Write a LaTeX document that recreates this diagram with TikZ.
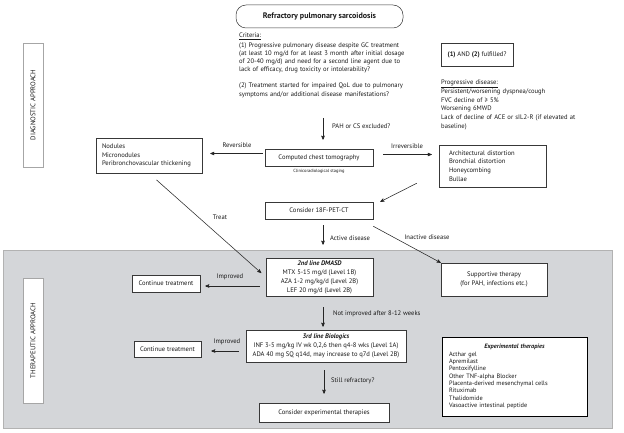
\documentclass[tikz,border=0pt]{standalone}
\usepackage{fontspec}
\setmainfont{PT Sans}
\usepackage{tikz}
\usetikzlibrary{arrows, calc}
\definecolor{PANELgray}{rgb}{0.83,0.84,0.85}
\definecolor{LINEgray}{rgb}{0.22,0.22,0.22}

\begin{document}
\begin{tikzpicture}[x=1pt, y=-1pt, text=black!90,
	box/.style={draw=LINEgray, line width=0.5pt, fill=white, inner sep=0pt, align=center, font=\fontsize{6.6}{9}\selectfont},
	lbl/.style={inner sep=0pt, font=\fontsize{6.6}{8}\selectfont},
	side/.style={draw=black!35, fill=white, rotate=90, minimum height=20pt, inner sep=0pt, font=\fontsize{6.8}{8}\selectfont},
	arr/.style={->, >=stealth', draw=black!85, line width=0.55pt}]
	\useasboundingbox (0,0) rectangle (624,433);
	\draw[fill=PANELgray, draw=black!30] (3,250) rectangle (612,428);

	\node[side, minimum width=124pt] (diag) at (33,105) {DIAGNOSTIC APPROACH};
	\node[side, minimum width=125pt] (ther) at (33,340.5) {THERAPEUTIC APPROACH};

	\node[box, rounded corners=10pt, minimum width=167pt, minimum height=23pt, font=\bfseries\fontsize{8}{9}\selectfont] (title) at (319.5,16.5) {Refractory pulmonary sarcoidosis};

	\node[lbl, anchor=north west, text width=185pt, align=left, font=\fontsize{6.6}{8.2}\selectfont] (crit) at (239,33) {\underline{Criteria:}\\[1pt]
		(1) Progressive pulmonary disease despite GC treatment\\
		(at least 10 mg/d for at least 3 month after initial dosage\\
		of 20-40 mg/d) and need for a second line agent due to\\
		lack of efficacy, drug toxicity or intolerability?\\[8pt]
		(2) Treatment started for impaired QoL due to pulmonary\\
		symptoms and/or additional disease manifestations?};
	\node[box, minimum width=72pt, minimum height=23pt] (ful) at (477,54.5) {\textbf{(1)} AND \textbf{(2)} fulfilled?};
	\node[lbl, anchor=north west, text width=180pt, align=left, font=\fontsize{6.6}{8.7}\selectfont] (prog) at (441,80) {\underline{Progressive disease:}\\
		Persistent/worsening dyspnea/cough\\
		FVC decline of ≥ 5\%\\
		Worsening 6MWD\\
		Lack of decline of ACE or sIL2-R (if elevated at\\
		baseline)};

	\coordinate (pah) at (323,118);
	\node[lbl, anchor=west] (pahlbl) at (332,126) {PAH or CS excluded?};

	\node[box, minimum width=108pt, minimum height=17pt] (ct) at (319,157.5) {Computed chest tomography};
	\node[lbl, font=\fontsize{4.5}{5}\selectfont] (stage) at (319,171.5) {Clinicoradiological staging};
	\node[box, minimum width=106pt, minimum height=35pt, text width=94pt, align=left, font=\fontsize{6.6}{8.5}\selectfont] (nod) at (149,155.5) {Nodules\\ Micronodules\\ Peribronchovascular thickening};
	\node[box, minimum width=107pt, minimum height=42pt, text width=87pt, align=left, font=\fontsize{6.6}{8.7}\selectfont] (arch) at (492.5,166) {Architectural distortion\\ Bronchial distortion\\ Honeycombing\\ Bullae};
	\node[lbl] (revlbl) at (237,145) {Reversible};
	\node[lbl] (irrlbl) at (407,146) {Irreversible};

	\node[box, minimum width=108pt, minimum height=17pt] (pet) at (319,210.5) {Consider 18F-PET-CT};
	\node[lbl] (treatlbl) at (220,217) {Treat};
	\node[lbl, anchor=west] (actlbl) at (330,238) {Active disease};
	\node[lbl] (inactlbl) at (427,237) {Inactive disease};

	\node[box, minimum width=107pt, minimum height=38pt] (dmasd) at (319.5,277) {\textbf{\textit{2nd line DMASD}}\\ MTX 5-15 mg/d (Level 1B)\\ AZA 1-2 mg/kg/d (Level 2B)\\ LEF 20 mg/d (Level 2B)};
	\node[box, minimum width=68pt, minimum height=17pt] (cont1) at (166,283.5) {Continue treatment};
	\node[lbl] (imp1lbl) at (230,277) {Improved};
	\node[box, minimum width=106pt, minimum height=33pt] (supp) at (494,279.5) {Supportive therapy\\ (for PAH, infections etc.)};
	\node[lbl, anchor=west] (notlbl) at (333,314) {Not improved after 8-12 weeks};

	\node[box, minimum width=160pt, minimum height=32pt] (bio) at (326,346) {\textbf{\textit{3rd line Biologics}}\\ INF 3-5 mg/kg IV wk 0,2,6 then q4-8 wks (Level 1A)\\ ADA 40 mg SQ q14d, may increase to q7d (Level 2B)};
	\node[box, minimum width=67pt, minimum height=16pt] (cont2) at (167.5,349.5) {Continue treatment};
	\node[lbl] (imp2lbl) at (227,342) {Improved};
	\node[lbl, anchor=west] (stilllbl) at (331,381) {Still refractory?};
	\node[box, minimum width=130pt, minimum height=19pt] (expc) at (324,412.5) {Consider experimental therapies};
	\node[box, draw=black, line width=0.8pt, minimum width=145pt, minimum height=79pt, text width=131pt, align=left, font=\fontsize{6.3}{7.3}\selectfont] (expt) at (514.5,376.5) {\makebox[131pt]{\textbf{\textit{Experimental therapies}}}\\
		Acthar gel\\ Apremilast\\ Pentoxifylline\\ Other TNF-alpha Blocker\\ Placenta-derived mesenchymal cells\\ Rituximab\\ Thalidomide\\ Vasoactive intestinal peptide};

	\draw[arr, shorten >=9pt] (pah) -- (ct.north -| pah);
	\draw[arr, shorten <=2pt, shorten >=8pt] ([yshift=4pt]ct.west) -- ([yshift=4pt]ct.west -| nod.east);
	\draw[arr, shorten <=10pt, shorten >=7pt] ([yshift=3pt]ct.east) -- ([yshift=3pt]ct.east -| arch.west);
	\draw[arr] ($(arch.south west)+(-22,-4)$) -- ($(pet.north east)+(7,0)$);
	\draw[arr, shorten <=10pt, shorten >=6pt] (nod.south) -- (dmasd.west);
	\draw[arr, shorten <=6pt, shorten >=13pt] ([xshift=4pt]pet.south) -- ([xshift=4pt]pet.south |- dmasd.north);
	\draw[arr] ($(pet.south east)+(0,7)$) -- (supp.north west);
	\draw[arr, shorten <=6pt, shorten >=5pt] ([yshift=-9pt]dmasd.west) -- ([yshift=-9pt]dmasd.west -| cont1.east);
	\draw[arr, shorten <=11pt, shorten >=3pt] ([xshift=3.5pt]dmasd.south) -- ([xshift=3.5pt]dmasd.south |- bio.north);
	\draw[arr, shorten <=7pt, shorten >=10pt] ([yshift=-5pt]bio.west) -- ([yshift=-5pt]bio.west -| cont2.east);
	\draw[arr, shorten <=8pt, shorten >=9pt] ([xshift=-2pt]bio.south) -- ([xshift=-2pt]bio.south |- expc.north);
\end{tikzpicture}
\end{document}
